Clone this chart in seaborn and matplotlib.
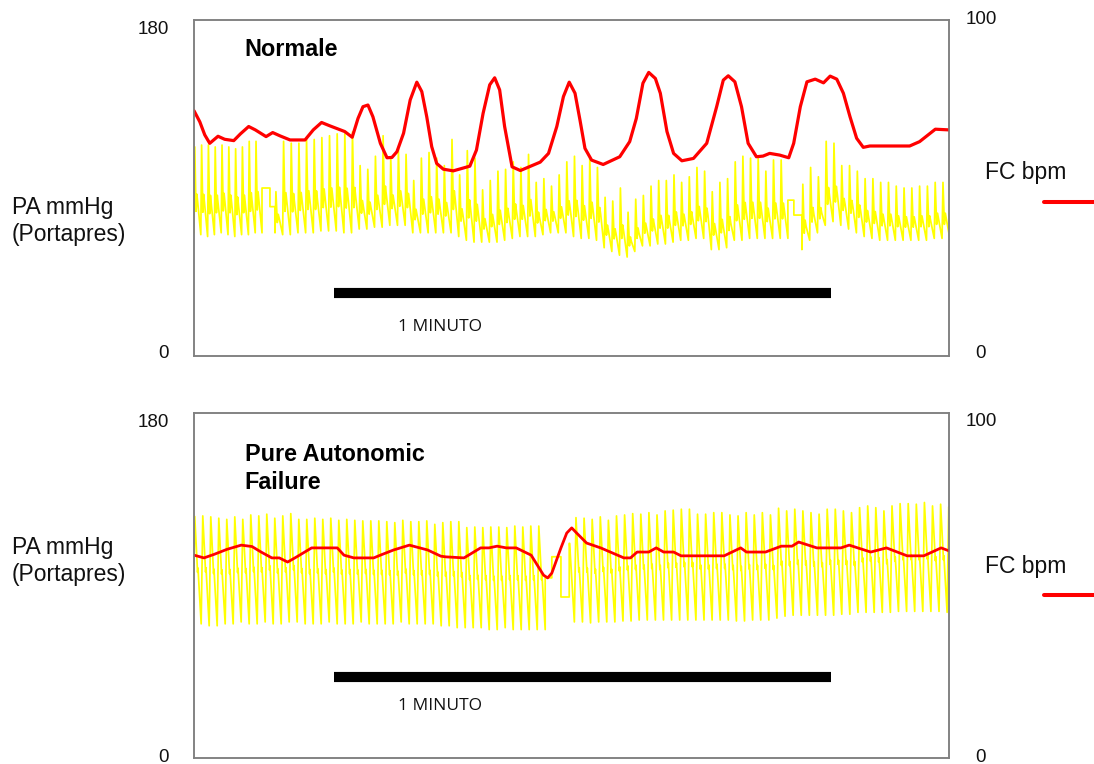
import numpy as np
import pandas as pd
import matplotlib
matplotlib.use("Agg")
import matplotlib.pyplot as plt
import seaborn as sns
from matplotlib.transforms import ScaledTranslation
from matplotlib.lines import Line2D

sns.set_theme(style="white")
plt.rcParams['font.family'] = ['Liberation Sans', 'DejaVu Sans']

# ---------------- DATA ----------------
# time axis in seconds; the black bar is 1 minute
x_max = 91.15
bar_start = 16.9
bar_len = 60.0

# --- Normale: heart rate (FC, bpm) ---
t_hr_top = [0.0, 0.7, 1.3, 1.9, 2.9, 3.7, 4.8, 5.6, 6.6, 7.4, 8.7, 9.5, 10.4, 11.6, 13.4,
            14.4, 15.4, 16.4, 18.2, 19.1, 19.8, 20.4, 21.0, 21.6, 22.5, 23.3, 23.9, 24.5, 25.3, 26.1,
            26.9, 27.5, 28.1, 28.7, 29.3, 30.1, 31.3, 33.3, 34.1, 34.9, 35.7, 36.3, 36.9, 37.5, 38.4,
            39.4, 41.8, 42.8, 43.8, 44.6, 45.3, 46.0, 46.6, 47.2, 48.0, 49.4, 51.4, 52.6, 53.4, 54.2,
            54.9, 55.7, 56.3, 57.1, 57.9, 58.9, 60.3, 61.9, 63.1, 63.9, 64.5, 65.3, 66.1, 66.9, 67.9,
            68.7, 69.5, 70.7, 71.8, 72.4, 73.2, 74.0, 75.0, 76.0, 76.8, 77.6, 78.4, 79.2, 80.0, 80.8,
            81.6, 86.4, 87.6, 89.5, 91.1]
hr_top = [73.0, 69.7, 65.8, 63.3, 65.4, 64.5, 64.1, 66.1, 68.3, 67.3, 65.3, 66.5, 65.5, 64.3, 64.3,
          67.3, 69.5, 68.5, 66.8, 65.1, 70.7, 74.2, 74.7, 71.2, 63.3, 59.0, 59.1, 60.8, 66.3, 76.2,
          81.5, 78.7, 71.2, 62.3, 57.3, 55.6, 55.1, 56.5, 61.3, 72.2, 80.7, 82.8, 79.2, 68.3, 56.3,
          55.2, 57.7, 60.3, 68.3, 77.2, 81.5, 78.2, 70.2, 61.8, 58.3, 57.0, 59.3, 63.8, 70.7, 81.2,
          84.4, 82.6, 78.2, 66.8, 60.3, 58.1, 58.8, 63.3, 74.2, 82.1, 83.4, 81.6, 74.2, 63.3, 59.3,
          59.5, 60.3, 59.8, 59.0, 63.3, 74.2, 81.6, 82.4, 81.3, 83.3, 82.4, 78.2, 71.2, 64.8, 62.1,
          62.5, 62.5, 63.8, 67.5, 67.3]

# --- Normale: arterial pressure per beat (PA, mmHg), three runs between calibrations ---
top_seg_a = (0.0, 8.21)
top_sys_a = [112, 113, 113, 112, 113, 112, 111, 112, 115, 115]
top_dia_a = [66, 65, 64, 65, 66, 65, 64, 65, 65, 66]
top_cal1_edges = [8.21, 9.17, 9.78]
top_cal1_levels = [90, 80]
top_seg_b = (9.78, 71.70)
top_sys_b = [88,
             115, 114, 114, 116, 116, 117, 118, 119, 119, 120, 102, 100, 107, 118, 106, 111, 108, 94,
             106, 109, 106, 102,
             116, 97, 110, 106, 89, 94, 99, 100, 104, 101, 108, 93, 95, 91, 97, 104, 107, 102, 106,
             101, 85, 83, 90, 77, 84, 86, 91, 94, 94, 97, 93, 96,
             101, 99, 88, 93, 95, 104, 107, 106, 106, 99, 105, 105]
top_dia_b = [66,
             65, 65, 66, 66, 66, 67, 67, 67, 66, 66, 68, 68, 69, 69, 70, 70, 70, 66, 66, 66, 66, 66,
             66, 64, 62, 61, 61, 61, 61, 62, 63, 64, 64, 64, 65, 66, 66, 66, 64, 63, 63, 62, 58, 56,
             54, 53, 56, 59, 59, 60, 60, 61, 62, 62,
             63, 63, 57, 57, 58, 62, 62, 63, 63, 63, 63, 63]
top_cal2_edges = [71.70, 72.42, 73.39]
top_cal2_levels = [83.5, 75.5]
top_seg_c = (73.39, 91.25)
top_sys_c = [92, 101, 96, 115, 114, 102, 102, 99, 95, 95, 93, 93, 91, 90, 90, 91, 91, 93, 93]
top_dia_c = [57, 62, 66, 70, 72, 70, 68, 66, 64, 63, 62, 62, 62, 62, 62, 62, 62, 63, 63]

# --- Pure Autonomic Failure: heart rate ---
t_hr_bot = [0.0, 1.2, 2.4, 4.0, 5.7, 7.0, 8.1, 9.4, 10.3, 11.3, 12.4, 14.2, 17.3, 18.1, 19.3,
            21.7, 22.5, 24.1, 26.0, 28.2, 29.8, 30.4, 32.6, 34.6, 35.6, 36.6, 37.7, 38.9, 40.7, 42.2,
            42.7, 43.2, 44.3, 45.0, 45.6, 46.2, 47.4, 49.1, 51.9, 52.7, 53.5, 54.9, 55.8, 56.7, 57.9,
            58.8, 60.6, 64.0, 66.0, 66.7, 69.0, 70.9, 72.2, 73.0, 75.2, 78.1, 79.1, 81.7, 83.6, 86.1,
            88.1, 90.2, 91.2]
hr_bot = [58.8, 58.0, 59.0, 60.5, 61.7, 61.3, 59.7, 58.0, 58.0, 56.8, 58.3, 60.9, 60.9, 58.8, 58.0,
          58.0, 58.8, 60.3, 61.7, 60.3, 58.5, 58.3, 58.0, 60.9, 60.9, 61.4, 60.9, 60.9, 58.8, 53.0,
          52.2, 53.6, 60.9, 65.2, 66.7, 65.2, 62.3, 60.9, 58.0, 58.0, 59.7, 59.7, 60.9, 59.7, 59.7,
          58.6, 58.6, 58.6, 60.9, 59.7, 59.7, 61.4, 61.4, 62.6, 60.9, 60.9, 61.7, 59.7, 60.9, 58.6,
          58.6, 60.9, 60.0]

# --- Pure Autonomic Failure: arterial pressure per beat ---
bot_seg_a = (-0.1, 42.4)
bot_sys_a = [126,
             126.3, 125.8, 125.1, 124.5, 125.8, 124.5, 126.8, 126.3, 127.2, 125.1, 126.3, 127.5, 124.5,
             124.5, 125.1, 124.5, 125.1, 124.0, 124.5, 124.0, 123.7, 123.7, 123.7, 123.3, 122.8, 124.0,
             123.3, 123.3, 123.7, 121.9,
             122.8, 123.3, 123.3, 120.2, 120.5, 120.2, 120.5, 120.5, 120.2, 121.0, 120.5, 121.0, 121.0]
bot_dia_a = [70,
             70, 69, 69, 70, 70, 71, 70, 70, 71, 70, 70, 71, 71, 70, 70, 70, 71, 70, 70, 70, 71, 70,
             70, 70, 70, 71, 70, 70, 70, 70,
             69, 69, 68, 68, 68, 68, 67, 67, 68, 67, 67, 67, 67]
bot_cal_edges = [42.4, 43.2, 44.3, 45.3, 45.35]
bot_cal_levels = [94, 105, 84, 112]
bot_seg_b = (45.92, 91.9)
bot_sys_b = [125.4, 125.1, 124.5, 125.8, 124.0, 126.3, 126.8, 127.5, 127.2, 128.0, 126.8, 128.9,
             129.3, 129.8, 129.8,
             127.2, 127.2, 128.0, 128.0, 126.8, 126.3, 128.0, 126.8, 128.0, 126.8, 130.3, 128.9, 129.8,
             128.9, 128.0, 127.2, 129.8, 129.8, 128.9, 128.0, 130.6, 131.5, 130.6, 128.9, 131.5, 132.7,
             132.7, 132.4, 133.3, 131.5, 132.4,
             131]
bot_dia_b = [71, 71, 70.5, 71, 71, 71, 71.5, 71.5, 72, 72, 72, 72, 72, 72, 72,
             72, 72, 72, 72, 72, 71.5, 71.5, 72, 72, 72, 73, 74, 74.5, 74.5, 74.5, 74.5, 74.5, 74.5,
             75, 75, 76, 76, 76, 76, 76, 76.5, 76.5, 76.5, 76.5, 76.5, 76.5,
             76]

# ---------------- STYLE ----------------
YELLOW = "#ffff00"
RED = "#ff0000"
SPINE = "#808080"
# beat contour: fraction of beat period -> fraction of pulse pressure
TOP_SHAPE = ([0.0, 0.12, 0.30, 0.42, 0.55], [0.0, 1.0, 0.25, 0.45, 0.35])
BOT_SHAPE = ([0.0, 0.20, 0.55, 0.60], [0.0, 1.0, 0.48, 0.52])


def beats(seg, sys, dia, shape):
    start, end = seg
    n = min(len(sys), len(dia))
    T = (end - start) / n
    t, v = [], []
    for i in range(n):
        t0 = start + i * T
        for f, l in zip(*shape):
            t.append(t0 + f * T)
            v.append(dia[i] + l * (sys[i] - dia[i]))
    t.append(end)
    v.append(dia[n - 1])
    return t, v


def steps(edges, levels):
    t, v = [], []
    for i, lv in enumerate(levels):
        t += [edges[i], edges[i + 1]]
        v += [lv, lv]
    return t, v


def concat(parts):
    t, v = [], []
    for pt, pv in parts:
        t += pt
        v += pv
    return pd.DataFrame({"t": t, "pa": v})


top_trace = concat([beats(top_seg_a, top_sys_a, top_dia_a, TOP_SHAPE),
                    steps(top_cal1_edges, top_cal1_levels),
                    beats(top_seg_b, top_sys_b, top_dia_b, TOP_SHAPE),
                    steps(top_cal2_edges, top_cal2_levels),
                    beats(top_seg_c, top_sys_c, top_dia_c, TOP_SHAPE)])
bot_trace = concat([beats(bot_seg_a, bot_sys_a, bot_dia_a, BOT_SHAPE),
                    steps(bot_cal_edges, bot_cal_levels),
                    beats(bot_seg_b, bot_sys_b, bot_dia_b, BOT_SHAPE)])
top_hr = pd.DataFrame({"t": t_hr_top, "fc": hr_top})
bot_hr = pd.DataFrame({"t": t_hr_bot, "fc": hr_bot})

W, H = 1094, 764
fig = plt.figure(figsize=(W / 100, H / 100), dpi=100)
fig.patch.set_facecolor("white")


def px_rect(left, top, right, bottom):
    return [left / W, 1 - bottom / H, (right - left) / W, (bottom - top) / H]


def shift_labels(labels, dys):
    for lab, dy in zip(labels, dys):
        lab.set_transform(lab.get_transform() + ScaledTranslation(0, dy / 100, fig.dpi_scale_trans))


def panel(rect, trace, hr, title, title_y, bar_y, minute_y, hr_lw, offs):
    ax = fig.add_axes(rect)
    sns.lineplot(data=trace, x="t", y="pa", ax=ax, color=YELLOW, linewidth=1.25,
                 estimator=None, sort=False)
    ax.set_xlim(0, x_max)
    ax.set_ylim(0, 180)
    ax.set_xticks([])
    ax.set_yticks([0, 180])
    ax.set_yticklabels(["0", "180"])
    ax.tick_params(axis="y", length=0, pad=18, labelsize=13.5, labelcolor="#111111")
    ax.set_xlabel("")
    ax.set_ylabel("")
    ax.plot([bar_start, bar_start + bar_len], [bar_y, bar_y], color="black", linewidth=7.3,
            solid_capstyle="butt")
    ax.text(bar_start + 12.8, minute_y, "1 MINUTO", ha="center", va="center",
            fontsize=12.5, family=["Open Sans", "DejaVu Sans"], color="#111111")
    ax.text(6.1, title_y, title, ha="left", va="center", fontsize=16.8, fontweight="bold",
            linespacing=1.25, color="black")

    ax2 = ax.twinx()
    sns.lineplot(data=hr, x="t", y="fc", ax=ax2, color=RED, linewidth=hr_lw,
                 estimator=None, sort=False, solid_joinstyle="round", solid_capstyle="round")
    ax2.set_xlim(0, x_max)
    ax2.set_ylim(0, 100)
    ax2.set_yticks([0, 100])
    ax2.set_yticklabels(["0", "100"])
    ax2.tick_params(axis="y", length=0, pad=23, labelsize=13.5, labelcolor="#111111")
    for lab in ax2.get_yticklabels():
        lab.set_horizontalalignment("center")
    ax2.set_ylabel("")
    ax2.set_xlabel("")
    for a in (ax, ax2):
        for s in a.spines.values():
            s.set_color(SPINE)
            s.set_linewidth(1.1)
    shift_labels(ax.get_yticklabels(), offs[0])
    shift_labels(ax2.get_yticklabels(), offs[1])
    return ax, ax2


panel(px_rect(194, 20, 949, 356), top_trace, top_hr, "Normale", 164, 33.5, 15.5, 2.3,
      ([4, -7], [4, 2]))
panel(px_rect(194, 413, 949, 758), bot_trace, bot_hr, "Pure Autonomic\nFailure", 151, 42.3, 27.0, 2.0,
      ([3, -8], [3, -7]))

# side labels and heart-rate key
for yc, yfc, yline in [(221, 173, 202), (561, 566, 595)]:
    fig.text(12 / W, 1 - yc / H, "PA mmHg\n(Portapres)", ha="left", va="center",
             fontsize=16.5, linespacing=1.25, color="#111111")
    fig.text(985 / W, 1 - yfc / H, "FC bpm", ha="left", va="center", fontsize=16.5, color="#111111")
    fig.add_artist(Line2D([1044 / W, 1.0], [1 - yline / H, 1 - yline / H], color=RED,
                          linewidth=2.9, transform=fig.transFigure))

fig.savefig("out.png", dpi=100, facecolor="white")
